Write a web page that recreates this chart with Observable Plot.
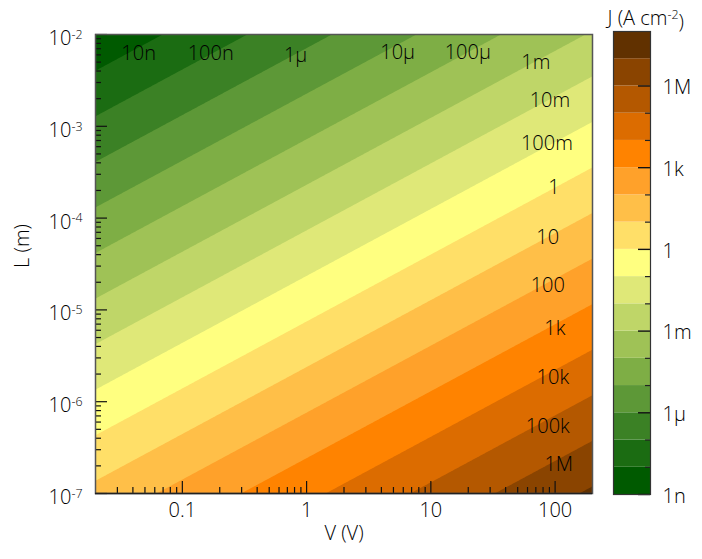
<!DOCTYPE html>
<html><head><meta charset="utf-8">
<script src="https://cdn.jsdelivr.net/npm/d3@7"></script>
<script src="https://cdn.jsdelivr.net/npm/@observablehq/plot@0.6"></script>
<style>
body{margin:0;background:#fff;}
#wrap{position:relative;width:702px;height:559px;}
#wrap svg{position:absolute;top:0;overflow:visible;background:transparent;}
</style></head><body><div id="wrap"></div>
<script>
// ---- data ----
// log10 J (A cm^-2) read at the four corners of the plotted V–L window
const cornerV = [0.02, 200, 0.02, 200];
const cornerL = [1e-2, 1e-2, 1e-7, 1e-7];
const cornerLogJ = [-8.795, -2.917, 1.279, 7.157];

// contour bands: lower-bound exponent of each decade band and its colour
const bandLevels = [-9,-8,-7,-6,-5,-4,-3,-2,-1,0,1,2,3,4,5,6,7];
const bandColors = ["#005a00","#1b6c12","#3b8125","#5d9837","#7eae45","#9fc256","#bfd668","#dfe878",
  "#ffff80","#ffdf68","#ffbf48","#ffa12a","#ff8300","#dc6c00","#b45800","#8a4400","#613100"];

// in-plot contour labels and their positions (V, L)
const contourText = ["10n","100n","1\u03bc","10\u03bc","100\u03bc","1m","10m","100m","1","10","100","1k","10k","100k","1M"];
const contourV = [0.0445,0.169,0.816,5.4,19.8,70,90.8,85.9,97.8,87.3,87.3,99.5,95.9,87.3,107];
const contourL = [6.2e-3,6.2e-3,5.9e-3,6.4e-3,6.4e-3,4.95e-3,1.91e-3,6.5e-4,2.15e-4,6.15e-5,1.85e-5,6.27e-6,1.84e-6,5.37e-7,2.07e-7];

// axes
const xMajor = [0.1, 1, 10, 100];
const xMajorLabels = ["0.1","1","10","100"];
const xMinor = [0.03,0.04,0.05,0.06,0.07,0.08,0.09, 0.2,0.3,0.4,0.5,0.6,0.7,0.8,0.9,
  2,3,4,5,6,7,8,9, 20,30,40,50,60,70,80,90];
const yMajorExp = [-2,-3,-4,-5,-6,-7];
const yMinorMant = [2,3,4,5,6,7,8,9];
const yMinorExp = [-7,-6,-5,-4,-3];

// colour bar
const cbTickExp = [-9,-8,-7,-6,-5,-4,-3,-2,-1,0,1,2,3,4,5,6];
const cbLabelExp = [-9,-6,-3,0,3,6];
const cbLabels = ["1n","1\u03bc","1m","1","1k","1M"];

// ---- build ----
const corners = cornerV.map((v, i) => ({V: v, L: cornerL[i], logJ: cornerLogJ[i]}));
const yMinor = yMinorExp.flatMap(e => yMinorMant.map(m => m * 10 ** e));
const FONT = "'Open Sans', sans-serif";
const FW = 300;
const FS = 20;
const TXT = "#000";
const colorScale = {type: "ordinal", domain: bandLevels, range: bandColors};

const frameW = 592 - 95, frameH = 493 - 34;

const main = Plot.plot({
  width: 702, height: 559,
  marginLeft: 95, marginRight: 110, marginTop: 34, marginBottom: 66,
  style: {fontFamily: FONT, fontSize: FS + "px", background: "transparent", color: TXT},
  x: {type: "log", domain: [0.02, 200], axis: null},
  y: {type: "log", domain: [1e-7, 1e-2], axis: null},
  color: colorScale,
  marks: [
    Plot.contour(corners, {x: "V", y: "L", fill: "logJ", interpolate: "barycentric",
      thresholds: bandLevels, pixelSize: 1, stroke: "none"}),
    Plot.text(contourText, {x: (d, i) => contourV[i], y: (d, i) => contourL[i], text: d => d,
      fill: TXT, fontSize: FS, fontWeight: FW}),
    Plot.tickX(xMajor, {x: d => d, insetTop: frameH - 12, stroke: "#111", strokeWidth: 1.2}),
    Plot.tickX(xMinor, {x: d => d, insetTop: frameH - 6, stroke: "#111", strokeWidth: 1.2}),
    Plot.tickY(yMajorExp, {y: e => 10 ** e, insetRight: frameW - 12, stroke: "#111", strokeWidth: 1.2}),
    Plot.tickY(yMinor, {y: d => d, insetRight: frameW - 6, stroke: "#111", strokeWidth: 1.2}),
    Plot.frame({stroke: "#555", strokeWidth: 1.5}),
    Plot.ruleY([1e-7], {stroke: "#222", strokeWidth: 1.5}),
    Plot.text(xMajor, {x: d => d, frameAnchor: "bottom", dy: 23, text: (d, i) => xMajorLabels[i],
      fill: TXT, fontSize: FS, fontWeight: FW}),
    Plot.text(yMajorExp, {y: e => 10 ** e, frameAnchor: "left", dx: -13, dy: 4, textAnchor: "end",
      text: e => "10^" + e, fill: TXT, fontSize: FS, fontWeight: FW}),
    Plot.text(["V (V)"], {frameAnchor: "bottom", dy: 46, fill: TXT, fontSize: FS, fontWeight: FW}),
    Plot.text(["L (m)"], {frameAnchor: "left", dx: -73, dy: 4, rotate: -90, fill: TXT, fontSize: FS, fontWeight: FW})
  ]
});

const cb = Plot.plot({
  width: 102, height: 559,
  marginLeft: 13, marginRight: 52, marginTop: 31, marginBottom: 65,
  style: {fontFamily: FONT, fontSize: FS + "px", background: "transparent", color: TXT},
  x: {domain: [0, 37], axis: null},
  y: {type: "log", domain: [1e-9, 1e8], axis: null},
  color: colorScale,
  marks: [
    Plot.rect(bandLevels, {x1: 0, x2: 37, y1: k => 10 ** k, y2: k => 10 ** (k + 1), fill: k => k}),
    Plot.ruleY(cbTickExp.filter(e => !cbLabelExp.includes(e)), {y: e => 10 ** e, x1: 32, x2: 37, stroke: "#222", strokeWidth: 1.2}),
    Plot.ruleY(cbLabelExp, {y: e => 10 ** e, x1: 25, x2: 37, stroke: "#111", strokeWidth: 1.4}),
    Plot.frame({stroke: "#333", strokeWidth: 1.2}),
    Plot.text(cbLabelExp, {x: 37, y: e => 10 ** e, dx: 12, dy: 2, textAnchor: "start",
      text: (e, i) => cbLabels[i], fill: TXT, fontSize: FS, fontWeight: FW}),
    Plot.text(["J (A cm^-2^)"], {x: 0, frameAnchor: "top", dx: -6, dy: -21, textAnchor: "start",
      fill: TXT, fontSize: FS, fontWeight: FW})
  ]
});

// superscripts: "base^exp^rest" or "base^exp"
function superscripts(svg) {
  d3.select(svg).selectAll("text").each(function () {
    const el = d3.select(this);
    const tgt = el.selectAll("tspan").empty() ? this : el.select("tspan").node();
    const s = tgt.textContent;
    if (!s.includes("^")) return;
    const [base, exp, rest] = s.split("^");
    const t = d3.select(tgt);
    t.text(null);
    t.append("tspan").text(base);
    t.append("tspan").attr("dy", "-0.5em").attr("font-size", "0.62em").text(exp);
    if (rest) t.append("tspan").attr("dy", "0.5em").text(rest);
  });
}
superscripts(main);
superscripts(cb);

const wrap = document.getElementById("wrap");
main.style.left = "0px";
cb.style.left = "600px";
wrap.append(main, cb);
</script></body></html>
